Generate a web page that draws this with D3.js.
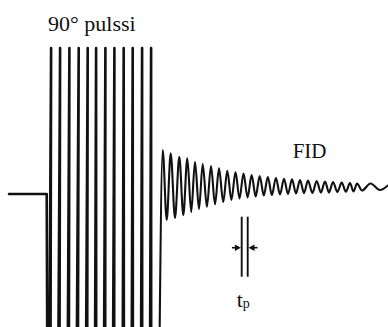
<!DOCTYPE html>
<html>
<head>
<meta charset="utf-8">
<script src="https://cdn.jsdelivr.net/npm/d3@7"></script>
<style>
  body { margin: 0; background: #fff; }
  svg { display: block; background: #fff; }
  .label { font-family: 'Liberation Serif', 'Times New Roman', serif; fill: #111; }
  .trace { fill: none; stroke: #111; stroke-linejoin: round; stroke-linecap: round; }
</style>
</head>
<body>
<svg id="chart"></svg>
<script>
// time and amplitude in arbitrary units, amplitude 0 = baseline before the pulse
const baseline = [[0, 0], [37.7, 0], [38.3, -170]];

// 90° pulse: each stroke rises from below the frame to its top and falls back
const pulseTops = [42.1, 51.1, 60.4, 69.7, 78.7, 87.1, 96.4, 105.4, 114.7, 123.7, 133.1, 142.1];
const pulseBottoms = [40.3, 49.3, 58.7, 67.7, 77, 86, 95, 104, 113.7, 122.7, 132, 141];
const pulsePeak = 146;
const pulseTrough = -170;

// FID, peaks and troughs
const fidStart = [150.3, -170];
const fidPeakTimes = [153.7, 161.7, 170.3, 178.3, 186, 193.7, 202, 210, 218.3, 226.5, 234.5, 242.6, 250.7,
    258.8, 266.9, 275, 283, 291, 299, 307.7, 316, 324, 332.7, 341, 348];
const fidPeakAmps = [44, 40.7, 37.3, 35.7, 32.3, 30, 28, 25.7, 23.3, 22, 20.5, 19, 18,
    17, 16, 15.3, 14.7, 14, 13.5, 13, 12.5, 12, 11.5, 11, 10.5];
const fidTroughTimes = [157.7, 166, 174.3, 182.2, 190, 197.9, 206, 214.2, 222.4, 230.5, 238.6, 246.7,
    254.8, 262.9, 271, 279, 287, 295, 303.4, 311.9, 320, 328.4, 336.9, 344.5];
const fidTroughAmps = [-26, -24, -21, -18, -15, -12.7, -10.3, -8, -6, -4.5, -3.5, -2.5,
    -1.5, -1, -0.5, 0, 0.5, 1, 1, 1.5, 1.5, 2, 2.3, 2.5];
const fidTail = [[353, 3.5], [361.5, 10.5], [371, 4], [379, 8.5]];

// pulse length marker
const tpLines = [232.7, 238.7];
const tpSpan = [-22.7, -82.7];
const tpArrowAmp = -53.7;

class fidDiagram {
    constructor(_config) {
        this.config = {
            parentElement: _config.parentElement,
            containerWidth: _config.containerWidth || 388,
            containerHeight: _config.containerHeight || 327
        };
        this.initVis();
    }

    initVis() {
        let vis = this;

        vis.svg = d3.select(vis.config.parentElement)
            .attr('width', vis.config.containerWidth)
            .attr('height', vis.config.containerHeight);

        vis.xScale = d3.scaleLinear().domain([0, 379]).range([9, 388]);
        vis.yScale = d3.scaleLinear().domain([-146, 146]).range([340, 48]);

        vis.line = d3.line()
            .x(d => vis.xScale(d[0]))
            .y(d => vis.yScale(d[1]));

        vis.smoothLine = d3.line()
            .x(d => vis.xScale(d[0]))
            .y(d => vis.yScale(d[1]))
            .curve(d3.curveMonotoneX);

        vis.updateVis();
    }

    updateVis() {
        let vis = this;

        // baseline + pulse strokes
        let pulsePoints = baseline.slice();
        pulseTops.forEach((t, i) => {
            pulsePoints.push([pulseBottoms[i], pulseTrough]);
            pulsePoints.push([t, pulsePeak]);
            pulsePoints.push([pulseBottoms[i] + 1.2, pulseTrough]);
        });

        vis.svg.append('path')
            .attr('class', 'trace')
            .attr('stroke-width', 2.6)
            .attr('d', vis.line(pulsePoints));

        // free induction decay
        let fidPoints = [fidStart];
        fidPeakTimes.forEach((t, i) => {
            fidPoints.push([t, fidPeakAmps[i]]);
            if (i < fidTroughTimes.length) fidPoints.push([fidTroughTimes[i], fidTroughAmps[i]]);
        });
        fidPoints = fidPoints.concat(fidTail);

        vis.svg.append('path')
            .attr('class', 'trace')
            .attr('stroke-width', 2.1)
            .attr('d', vis.smoothLine(fidPoints));

        // tp marker
        vis.svg.selectAll('.tp-line')
            .data(tpLines)
            .join('line')
            .attr('class', 'tp-line')
            .attr('x1', d => vis.xScale(d))
            .attr('x2', d => vis.xScale(d))
            .attr('y1', vis.yScale(tpSpan[0]))
            .attr('y2', vis.yScale(tpSpan[1]))
            .attr('stroke', '#111')
            .attr('stroke-width', 1.9);

        const ay = vis.yScale(tpArrowAmp);
        const arrows = [
            { tip: vis.xScale(tpLines[0]) - 0.8, dir: 1 },
            { tip: vis.xScale(tpLines[1]) + 0.8, dir: -1 }
        ];
        arrows.forEach(a => {
            vis.svg.append('line')
                .attr('x1', a.tip - a.dir * 9)
                .attr('x2', a.tip - a.dir * 3)
                .attr('y1', ay)
                .attr('y2', ay)
                .attr('stroke', '#111')
                .attr('stroke-width', 1.6);
            vis.svg.append('path')
                .attr('d', `M${a.tip},${ay} L${a.tip - a.dir * 6},${ay - 3.2} L${a.tip - a.dir * 6},${ay + 3.2} Z`)
                .attr('fill', '#111');
        });

        // labels
        vis.svg.append('text')
            .attr('class', 'label')
            .attr('x', vis.xScale(39))
            .attr('y', vis.yScale(163))
            .style('font-size', '22px')
            .text('90° pulssi');

        vis.svg.append('text')
            .attr('class', 'label')
            .attr('x', vis.xScale(283.7))
            .attr('y', vis.yScale(35.7))
            .style('font-size', '21px')
            .text('FID');

        const tp = vis.svg.append('text')
            .attr('class', 'label')
            .attr('x', vis.xScale(227.7))
            .attr('y', vis.yScale(-112.7))
            .style('font-size', '22px')
            .text('t');
        tp.append('tspan')
            .attr('dy', 1.5)
            .style('font-size', '14px')
            .text('p');
    }
}

new fidDiagram({ parentElement: '#chart' });
</script>
</body>
</html>
